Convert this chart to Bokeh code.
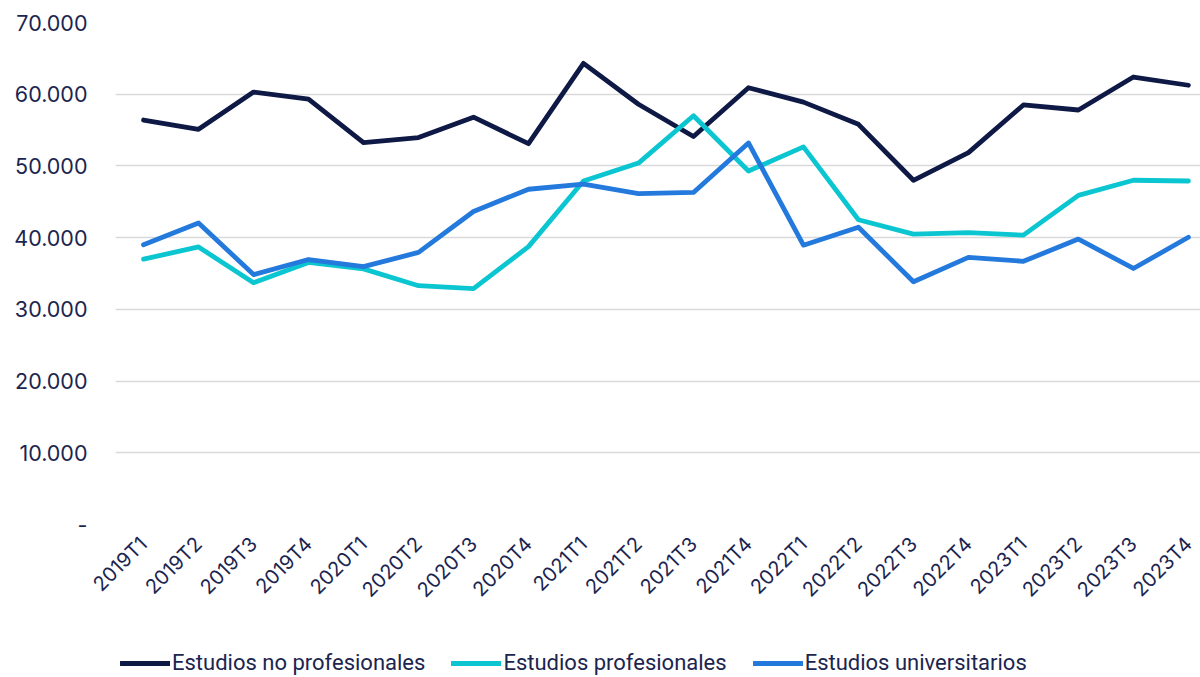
from bokeh.plotting import figure
from bokeh.models import Range1d, FixedTicker, Legend, LegendItem, ColumnDataSource
from bokeh.layouts import column
from bokeh.embed import file_html
from bokeh.resources import INLINE
import math

quarters = ["2019T1", "2019T2", "2019T3", "2019T4", "2020T1", "2020T2", "2020T3", "2020T4",
            "2021T1", "2021T2", "2021T3", "2021T4", "2022T1", "2022T2", "2022T3", "2022T4",
            "2023T1", "2023T2", "2023T3", "2023T4"]

no_profesionales = [56400, 55100, 60300, 59300, 53250, 53950, 56800, 53100,
                    64300, 58600, 54100, 60900, 58900, 55800, 48000, 51850,
                    58500, 57800, 62400, 61250]
profesionales = [37000, 38700, 33700, 36550, 35650, 33300, 32900, 38750,
                 47900, 50400, 57000, 49300, 52650, 42500, 40500, 40700,
                 40350, 45900, 48000, 47900]
universitarios = [39000, 42050, 34850, 36950, 35950, 37950, 43650, 46750,
                  47450, 46150, 46300, 53200, 38950, 41450, 33850, 37250,
                  36700, 39800, 35700, 40050]

y_ticks = [0, 10000, 20000, 30000, 40000, 50000, 60000, 70000]
y_tick_labels = ["-", "10.000", "20.000", "30.000", "40.000", "50.000", "60.000", "70.000"]

series_names = ["Estudios no profesionales", "Estudios profesionales", "Estudios universitarios"]
colors = ["#0E1A45", "#0BC6D1", "#2479DC"]

TEXT = "#1B2550"

xs = list(range(len(quarters)))
src = ColumnDataSource(dict(x=xs, a=no_profesionales, b=profesionales, c=universitarios))

p = figure(width=1200, height=633, output_backend="svg", toolbar_location=None,
           x_range=Range1d(-0.51, 19.22), y_range=Range1d(0, 70000),
           min_border_left=115, min_border_right=0, min_border_top=22, min_border_bottom=109)
p.outline_line_color = None
p.background_fill_color = "white"
p.border_fill_color = "white"

for col, c in zip(["a", "b", "c"], colors):
    p.line("x", col, source=src, line_color=c, line_width=4.8, line_cap="round", line_join="round")

# axes
p.xaxis.ticker = FixedTicker(ticks=xs)
p.xaxis.major_label_overrides = {i: q for i, q in enumerate(quarters)}
p.xaxis.major_label_orientation = math.pi / 4
p.xaxis.axis_line_color = None
p.xaxis.major_tick_line_color = None
p.xaxis.minor_tick_line_color = None
p.xaxis.major_label_text_font = "Inter"
p.xaxis.major_label_text_font_size = "20px"
p.xaxis.major_label_text_color = TEXT
p.xaxis.major_label_standoff = 10

p.yaxis.ticker = FixedTicker(ticks=y_ticks)
p.yaxis.major_label_overrides = {t: l for t, l in zip(y_ticks, y_tick_labels)}
p.yaxis.axis_line_color = None
p.yaxis.major_tick_line_color = None
p.yaxis.minor_tick_line_color = None
p.yaxis.major_label_text_font = "Inter"
p.yaxis.major_label_text_font_size = "21.5px"
p.yaxis.major_label_text_color = TEXT
p.yaxis.major_label_standoff = 22

p.xgrid.grid_line_color = None
p.ygrid.ticker = FixedTicker(ticks=y_ticks)
p.ygrid.grid_line_color = "#D9D9D9"
p.ygrid.grid_line_width = 1.5

# legend strip below the chart (same series, drawn out of view so only the legend shows)
lf = figure(width=1200, height=44, output_backend="svg", toolbar_location=None,
            x_range=Range1d(-0.51, 19.22), y_range=Range1d(-300000, -200000),
            min_border=0, x_axis_location=None, y_axis_location=None)
lf.outline_line_color = None
lf.xgrid.visible = False
lf.ygrid.visible = False
lrs = []
for col, c in zip(["a", "b", "c"], colors):
    lrs.append(lf.line("x", col, source=src, line_color=c, line_width=4.8, line_cap="round"))

legend = Legend(items=[LegendItem(label=n, renderers=[r]) for n, r in zip(series_names, lrs)],
                orientation="horizontal", location=(5, 2))
legend.label_text_font = "Roboto"
legend.label_text_font_size = "22px"
legend.label_text_color = TEXT
legend.glyph_width = 50
legend.glyph_height = 20
legend.label_height = 20
legend.label_standoff = 2
legend.spacing = 26
legend.padding = 0
legend.margin = 0
legend.border_line_color = None
legend.background_fill_alpha = 0
lf.add_layout(legend, "center")

layout = column(p, lf, spacing=0)
open("out.html", "w").write(file_html(layout, INLINE))
